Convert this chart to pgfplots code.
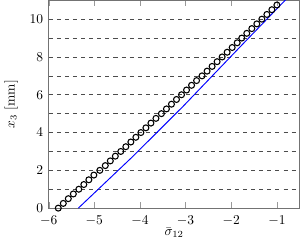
\documentclass[border=0pt]{standalone}
\usepackage{pgfplots}
\pgfplotsset{compat=1.18}
\begin{document}
\begin{tikzpicture}
\begin{axis}[
  scale only axis,
  width=186pt, height=154pt,
  xmin=-6, xmax=-0.5, ymin=0, ymax=11,
  xtick={-6,-5,-4,-3,-2,-1},
  ytick={0,2,4,6,8,10},
  minor ytick={1,3,5,7,9},
  ymajorgrids, yminorgrids,
  major grid style={dashed, black!70},
  minor grid style={dashed, black!70},
  axis line style={black!55},
  xtick style={black!40},
  ytick style={draw=none},
  minor tick style={draw=none},
  xlabel={$\bar{\sigma}_{12}$},
  ylabel={$x_3$ [mm]},
  xticklabel style={inner sep=0pt, yshift=-5.8pt},
  yticklabel style={inner sep=0pt, xshift=-4pt},
  xlabel style={yshift=2pt},
  ylabel style={yshift=5pt},
  clip=true,
]
\addplot[blue, line width=0.7pt] coordinates {
(-5.35,0) (-4.15,2.75) (-3.05,5.4) (-1.82,8.5) (-0.82,11) (-0.70,11.3)
};
\addplot[only marks, mark=o, mark size=2.2pt, line width=0.8pt, black] coordinates {
(-5.79,0) (-5.68,0.25) (-5.57,0.5) (-5.46,0.75) (-5.34,1) (-5.23,1.25) (-5.12,1.5) (-5.01,1.75)
(-4.88,2) (-4.76,2.25) (-4.65,2.5) (-4.54,2.75) (-4.42,3) (-4.31,3.25) (-4.20,3.5) (-4.09,3.75)
(-3.98,4) (-3.87,4.25) (-3.76,4.5) (-3.65,4.75) (-3.53,5) (-3.42,5.25) (-3.31,5.5) (-3.20,5.75)
(-3.09,6) (-2.98,6.25) (-2.87,6.5) (-2.76,6.75) (-2.64,7) (-2.53,7.25) (-2.42,7.5) (-2.31,7.75)
(-2.20,8) (-2.09,8.25) (-1.98,8.5) (-1.87,8.75) (-1.77,9) (-1.66,9.25) (-1.55,9.5) (-1.44,9.75)
(-1.33,10) (-1.22,10.25) (-1.11,10.5) (-1.00,10.75)
};
\end{axis}
\end{tikzpicture}
\end{document}
